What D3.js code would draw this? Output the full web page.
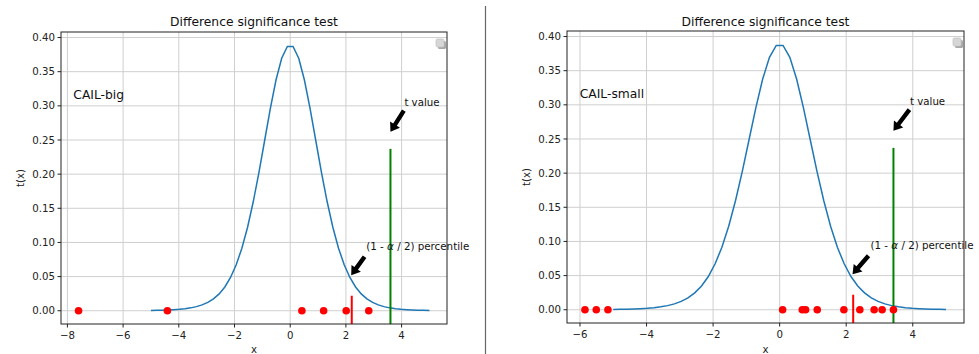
<!DOCTYPE html>
<html>
<head>
<meta charset="utf-8">
<script src="https://cdn.jsdelivr.net/npm/d3@7"></script>
<style>
  body { margin: 0; background: #fff; }
  svg { display: block; font-family: "DejaVu Sans", sans-serif; }
</style>
</head>
<body>
<div id="Graph"></div>
<script>
// curve sample points (x grid and t(x))
const curveX = [-5, -4.796, -4.592, -4.388, -4.184, -3.980, -3.776, -3.571, -3.367, -3.163,
  -2.959, -2.755, -2.551, -2.347, -2.143, -1.939, -1.735, -1.531, -1.327, -1.122,
  -0.918, -0.714, -0.510, -0.306, -0.102, 0.102, 0.306, 0.510, 0.714, 0.918,
  1.122, 1.327, 1.531, 1.735, 1.939, 2.143, 2.347, 2.551, 2.755, 2.959,
  3.163, 3.367, 3.571, 3.776, 3.980, 4.184, 4.388, 4.592, 4.796, 5];
const curveY = [0.0004, 0.00055, 0.00076, 0.00106, 0.00149, 0.0021, 0.00298, 0.00423, 0.00602, 0.00858,
  0.01224, 0.01742, 0.0247, 0.03483, 0.04869, 0.06727, 0.09156, 0.12226, 0.15955, 0.2026,
  0.24926, 0.29594, 0.33782, 0.36965, 0.38689, 0.38689, 0.36965, 0.33782, 0.29594, 0.24926,
  0.2026, 0.15955, 0.12226, 0.09156, 0.06727, 0.04869, 0.03483, 0.0247, 0.01742, 0.01224,
  0.00858, 0.00602, 0.00423, 0.00298, 0.0021, 0.00149, 0.00106, 0.00076, 0.00055, 0.0004];

const bigPoints = [-7.60, -4.41, 0.42, 1.20, 2.01, 2.82];
const smallPoints = [-5.85, -5.51, -5.16, 0.09, 0.68, 0.78, 1.13, 1.93, 2.41, 2.84, 3.08, 3.42];

const datasetNames = ["CAIL-big", "CAIL-small"];
const tValues = [3.6, 3.42];
const critValues = [2.21, 2.21];
const tLineTop = 0.237;
const critLineTop = 0.022;

const yTicks = [0, 0.05, 0.10, 0.15, 0.20, 0.25, 0.30, 0.35, 0.40];
const xTicksBig = [-8, -6, -4, -2, 0, 2, 4];
const xTicksSmall = [-6, -4, -2, 0, 2, 4];

const width = 979, height = 354;
const svg = d3.select("#Graph").append("svg")
  .attr("width", width).attr("height", height);

// separator between the two figures
svg.append("line")
  .attr("x1", 485.5).attr("x2", 485.5).attr("y1", 6).attr("y2", height)
  .attr("stroke", "#666").attr("stroke-width", 1.2);

const panels = [
  { name: datasetNames[0], pts: bigPoints, t: tValues[0], crit: critValues[0], xTicks: xTicksBig,
    xDom: [-8.23, 5.63], box: { l: 61, r: 447, t: 32, b: 324 } },
  { name: datasetNames[1], pts: smallPoints, t: tValues[1], crit: critValues[1], xTicks: xTicksSmall,
    xDom: [-6.39, 5.54], box: { l: 567, r: 964, t: 31, b: 323 } }
];

const yDom = [-0.0194, 0.4081];

function arrow(g, x0, y0, x1, y1) {
  // fat matplotlib-style arrow from tail (x0,y0) to tip (x1,y1)
  const dx = x1 - x0, dy = y1 - y0, len = Math.hypot(dx, dy);
  const ux = dx / len, uy = dy / len, nx = -uy, ny = ux;
  const sw = 2.2, hw = 5.8, hl = 8.5;
  const bx = x1 - ux * hl, by = y1 - uy * hl;
  const p = [
    [x0 + nx * sw, y0 + ny * sw], [bx + nx * sw, by + ny * sw], [bx + nx * hw, by + ny * hw],
    [x1, y1], [bx - nx * hw, by - ny * hw], [bx - nx * sw, by - ny * sw], [x0 - nx * sw, y0 - ny * sw]
  ];
  g.append("path").attr("d", "M" + p.join("L") + "Z").attr("fill", "#000");
}

panels.forEach((p, i) => {
  const b = p.box;
  const x = d3.scaleLinear().domain(p.xDom).range([b.l, b.r]);
  const y = d3.scaleLinear().domain(yDom).range([b.b, b.t]);
  const g = svg.append("g");

  const clipId = "clip" + i;
  svg.append("clipPath").attr("id", clipId).append("rect")
    .attr("x", b.l).attr("y", b.t).attr("width", b.r - b.l).attr("height", b.b - b.t);

  // grid
  g.append("g").selectAll("line").data(p.xTicks).enter().append("line")
    .attr("x1", d => x(d)).attr("x2", d => x(d)).attr("y1", b.t).attr("y2", b.b)
    .attr("stroke", "#cfcfcf").attr("stroke-width", 1);
  g.append("g").selectAll("line").data(yTicks).enter().append("line")
    .attr("y1", d => y(d)).attr("y2", d => y(d)).attr("x1", b.l).attr("x2", b.r)
    .attr("stroke", "#cfcfcf").attr("stroke-width", 1);

  const plot = g.append("g").attr("clip-path", `url(#${clipId})`);

  const line = d3.line().x((d, j) => x(curveX[j])).y(d => y(d));
  plot.append("path").datum(curveY).attr("d", line)
    .attr("fill", "none").attr("stroke", "#1f77b4").attr("stroke-width", 1.5);

  // t value line
  plot.append("line")
    .attr("x1", x(p.t)).attr("x2", x(p.t)).attr("y1", y(yDom[0])).attr("y2", y(tLineTop))
    .attr("stroke", "green").attr("stroke-width", 2);
  // critical value line
  plot.append("line")
    .attr("x1", x(p.crit)).attr("x2", x(p.crit)).attr("y1", y(yDom[0])).attr("y2", y(critLineTop))
    .attr("stroke", "red").attr("stroke-width", 2);

  plot.append("g").selectAll("circle").data(p.pts).enter().append("circle")
    .attr("cx", d => x(d)).attr("cy", y(0)).attr("r", 3.8).attr("fill", "red");

  // frame
  g.append("rect").attr("x", b.l).attr("y", b.t).attr("width", b.r - b.l).attr("height", b.b - b.t)
    .attr("fill", "none").attr("stroke", "#222").attr("stroke-width", 1);

  // ticks
  const tx = g.append("g").selectAll("g").data(p.xTicks).enter().append("g");
  tx.append("line").attr("x1", d => x(d)).attr("x2", d => x(d)).attr("y1", b.b).attr("y2", b.b + 3.5)
    .attr("stroke", "#222");
  tx.append("text").attr("x", d => x(d)).attr("y", b.b + 15).attr("text-anchor", "middle")
    .attr("font-size", 10.2).attr("fill", "#222").text(d => d < 0 ? "\u2212" + Math.abs(d) : d);

  const ty = g.append("g").selectAll("g").data(yTicks).enter().append("g");
  ty.append("line").attr("x1", b.l - 3.5).attr("x2", b.l).attr("y1", d => y(d)).attr("y2", d => y(d))
    .attr("stroke", "#222");
  ty.append("text").attr("x", b.l - 6).attr("y", d => y(d) + 3.6).attr("text-anchor", "end")
    .attr("font-size", 10.2).attr("fill", "#222").text(d => d.toFixed(2));

  // labels and title
  g.append("text").attr("x", (b.l + b.r) / 2).attr("y", 26).attr("text-anchor", "middle")
    .attr("font-size", 12.3).attr("fill", "#111").text("Difference significance test");
  g.append("text").attr("x", (b.l + b.r) / 2).attr("y", 353).attr("text-anchor", "middle")
    .attr("font-size", 10.2).attr("fill", "#222").text("x");
  g.append("text").attr("transform", `translate(${b.l - 37},${(b.t + b.b) / 2}) rotate(-90)`)
    .attr("text-anchor", "middle").attr("font-size", 10.2).attr("fill", "#222").text("t(x)");

  g.append("text").attr("x", b.l + 0.032 * (b.r - b.l)).attr("y", b.b - 0.77 * (b.b - b.t))
    .attr("font-size", 12.3).attr("fill", "#111").text(p.name);

  // annotations
  g.append("text").attr("x", x(p.t + 0.5)).attr("y", y(0.30))
    .attr("font-size", 10.2).attr("fill", "#111").text("t value");
  arrow(g, x(p.t + 0.48), y(0.293), x(p.t), y(0.262));

  const pt = g.append("text").attr("x", x(p.crit + 0.52)).attr("y", y(0.089))
    .attr("font-size", 10.3).attr("fill", "#111");
  pt.append("tspan").text("(1 - ");
  pt.append("tspan").attr("font-style", "italic").text("\u03b1");
  pt.append("tspan").text(" / 2) percentile");
  arrow(g, x(p.crit + 0.46), y(0.079), x(p.crit - 0.02), y(0.052));

  // empty legend box
  g.append("rect").attr("x", b.r - 9).attr("y", b.t + 9).attr("width", 8).attr("height", 8)
    .attr("rx", 1.5).attr("fill", "#a8a8a8");
  g.append("rect").attr("x", b.r - 11).attr("y", b.t + 7).attr("width", 8).attr("height", 8)
    .attr("rx", 1.5).attr("fill", "#d6d6d6").attr("stroke", "#c4c4c4").attr("stroke-width", 0.8);
});
</script>
</body>
</html>
